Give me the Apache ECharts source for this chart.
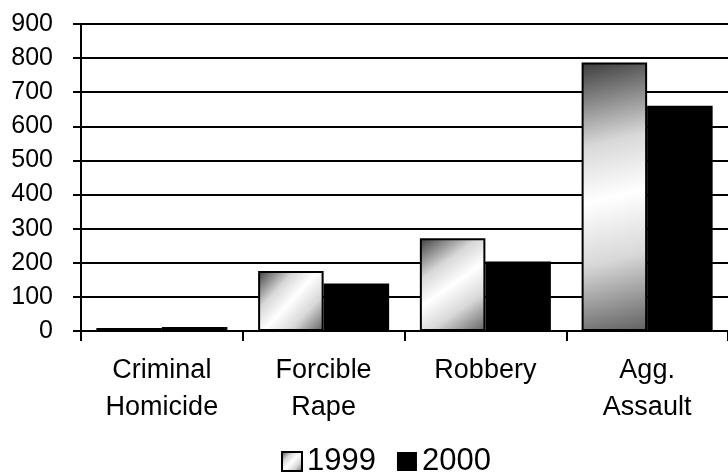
<!DOCTYPE html>
<html><head><meta charset="utf-8">
<script src="https://cdn.jsdelivr.net/npm/echarts@6/dist/echarts.min.js"></script>
<style>html,body{margin:0;padding:0;background:#fff}#c{width:728px;height:475px}</style>
</head><body><div id="c"></div>
<script>
const categories = ['Criminal\nHomicide', 'Forcible\nRape', 'Robbery', 'Agg.\nAssault'];
const seriesNames = ['1999', '2000'];
const values1999 = [9, 176, 272, 787];
const values2000 = [12, 139, 204, 660];
const yTicks = [0, 900, 100];

const font = 'Liberation Sans, Arial, sans-serif';
const grad = new echarts.graphic.LinearGradient(0, 0, 1, 1, [
  {offset: 0, color: '#3c3c3c'},
  {offset: 0.3, color: '#d8d8d8'},
  {offset: 0.5, color: '#ffffff'},
  {offset: 0.72, color: '#d8d8d8'},
  {offset: 1, color: '#606060'}
]);
const chart = echarts.init(document.getElementById('c'), null, {renderer: 'canvas'});
chart.setOption({
  animation: false,
  textStyle: {fontFamily: font, color: '#000'},
  grid: {left: 81, right: 0, top: 24, bottom: 144, containLabel: false},
  legend: {
    left: 281, top: 446, padding: [0, 0, 0, 0],
    itemWidth: 20, itemHeight: 19, itemGap: 21,
    textStyle: {fontSize: 31, color: '#000', fontFamily: font},
    data: [
      {name: seriesNames[0], icon: 'rect', itemStyle: {color: grad, borderColor: '#000', borderWidth: 2}},
      {name: seriesNames[1], icon: 'rect', itemStyle: {color: '#000', borderWidth: 0}}
    ]
  },
  xAxis: {
    type: 'category', data: categories,
    axisLine: {lineStyle: {color: '#000', width: 2}},
    axisTick: {show: true, length: 10, lineStyle: {color: '#000', width: 2}},
    axisLabel: {fontSize: 27, color: '#000', fontFamily: font, margin: 21, lineHeight: 37}
  },
  yAxis: {
    type: 'value', min: yTicks[0], max: yTicks[1], interval: yTicks[2],
    axisLine: {show: true, lineStyle: {color: '#000', width: 2}},
    axisTick: {show: true, length: 8, lineStyle: {color: '#000', width: 2}},
    axisLabel: {fontSize: 25, color: '#000', fontFamily: font, margin: 28},
    splitLine: {lineStyle: {color: '#000', width: 2}}
  },
  series: [
    {name: seriesNames[0], type: 'bar', data: values1999, barGap: '0%', barCategoryGap: '19%',
     itemStyle: {color: grad, borderColor: '#000', borderWidth: 2}},
    {name: seriesNames[1], type: 'bar', data: values2000,
     itemStyle: {color: '#000'}}
  ]
});
</script></body></html>
